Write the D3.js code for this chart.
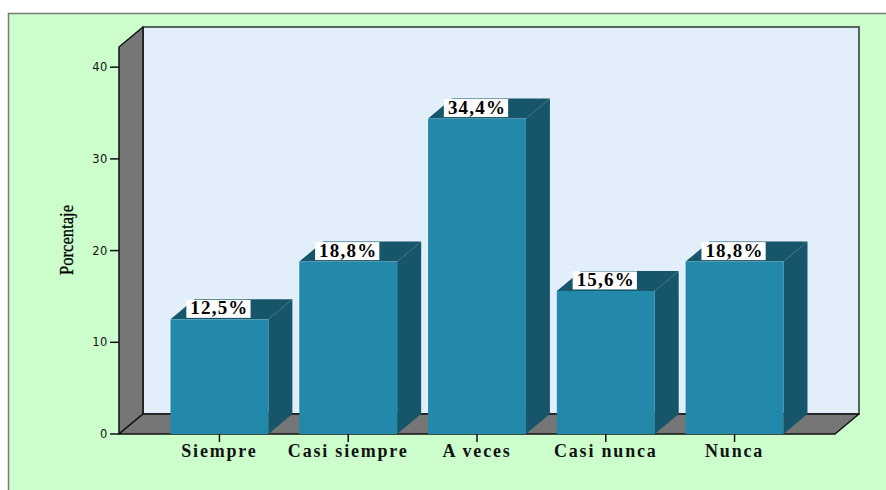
<!DOCTYPE html>
<html><head><meta charset="utf-8">
<script src="https://cdn.jsdelivr.net/npm/d3@7/dist/d3.min.js"></script>
<style>body{margin:0;background:#fff}svg{display:block}</style>
</head><body><svg id="c" width="886" height="490"></svg>
<script>
const categories = ["Siempre", "Casi siempre", "A veces", "Casi nunca", "Nunca"];
const values = [12.5, 18.8, 34.4, 15.6, 18.8];
const valueLabels = ["12,5%", "18,8%", "34,4%", "15,6%", "18,8%"];
const yTicks = [0, 10, 20, 30, 40];
const yTitle = "Porcentaje";

const svg = d3.select("#c");
const W = 886, H = 490;
const x0 = 119, x1 = 835, yBase = 434, yTopPx = 47;
const dx = 24, dy = -20;

const y = d3.scaleLinear().domain([0, 42.2]).range([yBase, yTopPx]);
const x = d3.scaleBand().domain(categories).range([x0, x1]).paddingInner(0.24).paddingOuter(0.4);

// outer frame
svg.append("rect").attr("x", 8.5).attr("y", 13.5).attr("width", W).attr("height", H)
  .attr("fill", "#CCFFCC").attr("stroke", "#7a7a7a").attr("stroke-width", 1.5);

// back wall
svg.append("rect").attr("x", x0 + dx).attr("y", yTopPx + dy).attr("width", x1 - x0).attr("height", yBase - yTopPx)
  .attr("fill", "#E2EEFA").attr("stroke", "#333").attr("stroke-width", 1.5);

// left wall
svg.append("polygon").attr("points", [[x0, yTopPx], [x0 + dx, yTopPx + dy], [x0 + dx, yBase + dy], [x0, yBase]].join(" "))
  .attr("fill", "#767676").attr("stroke", "#111").attr("stroke-width", 1.5).attr("stroke-linejoin", "round");
// floor
svg.append("polygon").attr("points", [[x0, yBase], [x0 + dx, yBase + dy], [x1 + dx, yBase + dy], [x1, yBase]].join(" "))
  .attr("fill", "#767676").attr("stroke", "#111").attr("stroke-width", 1.5).attr("stroke-linejoin", "round");

// y axis ticks
const ya = svg.append("g");
yTicks.forEach(t => {
  ya.append("line").attr("x1", x0 - 9).attr("x2", x0).attr("y1", y(t)).attr("y2", y(t)).attr("stroke", "#111").attr("stroke-width", 1.5);
  ya.append("text").attr("x", x0 - 11).attr("y", y(t)).attr("dy", "0.36em").attr("text-anchor", "end")
    .attr("font-family", "DejaVu Sans").attr("font-size", 11.5).attr("letter-spacing", 0.6).attr("fill", "#111").text(t);
});

// y title
svg.append("text").attr("transform", "translate(73,240) rotate(-90)").attr("text-anchor", "middle")
  .attr("font-family", "Liberation Serif").attr("font-size", 18).attr("fill", "#000")
  .attr("stroke", "#000").attr("stroke-width", 0.3)
  .attr("textLength", 70).attr("lengthAdjust", "spacingAndGlyphs").text(yTitle);

// bars
const bw = x.bandwidth();
const g = svg.append("g");
categories.forEach((c, i) => {
  const v = values[i], xb = x(c), yt = y(v);
  g.append("polygon").attr("points", [[xb + bw, yt], [xb + bw + dx, yt + dy], [xb + bw + dx, yBase + dy], [xb + bw, yBase]].join(" "))
    .attr("fill", "#17566A");
  g.append("polygon").attr("points", [[xb, yt], [xb + dx, yt + dy], [xb + bw + dx, yt + dy], [xb + bw, yt]].join(" "))
    .attr("fill", "#17566A");
  g.append("rect").attr("x", xb).attr("y", yt).attr("width", bw).attr("height", yBase - yt).attr("fill", "#2389AA");
  // x tick
  g.append("line").attr("x1", xb + bw / 2).attr("x2", xb + bw / 2).attr("y1", yBase).attr("y2", yBase + 8)
    .attr("stroke", "#111").attr("stroke-width", 1.5);
  // category label
  g.append("text").attr("x", xb + bw / 2).attr("y", 457).attr("text-anchor", "middle")
    .attr("font-family", "Liberation Serif").attr("font-weight", "bold").attr("font-size", 18).attr("letter-spacing", 1.8)
    .attr("fill", "#111").text(c);
});

// value labels
categories.forEach((c, i) => {
  const v = values[i], cx = x(c) + bw / 2, yt = y(v);
  const lg = svg.append("g");
  const box = lg.append("rect").attr("fill", "#fff");
  const t = lg.append("text").attr("x", cx).attr("y", yt - 5).attr("text-anchor", "middle")
    .attr("font-family", "Liberation Serif").attr("font-weight", "bold").attr("font-size", 19).attr("letter-spacing", 1.2)
    .attr("fill", "#000").text(valueLabels[i]);
  const w = t.node().getComputedTextLength();
  box.attr("x", cx - w / 2 - 4).attr("y", yt + dy + 0.5).attr("width", w + 6).attr("height", -dy - 2);
});
</script></body></html>
